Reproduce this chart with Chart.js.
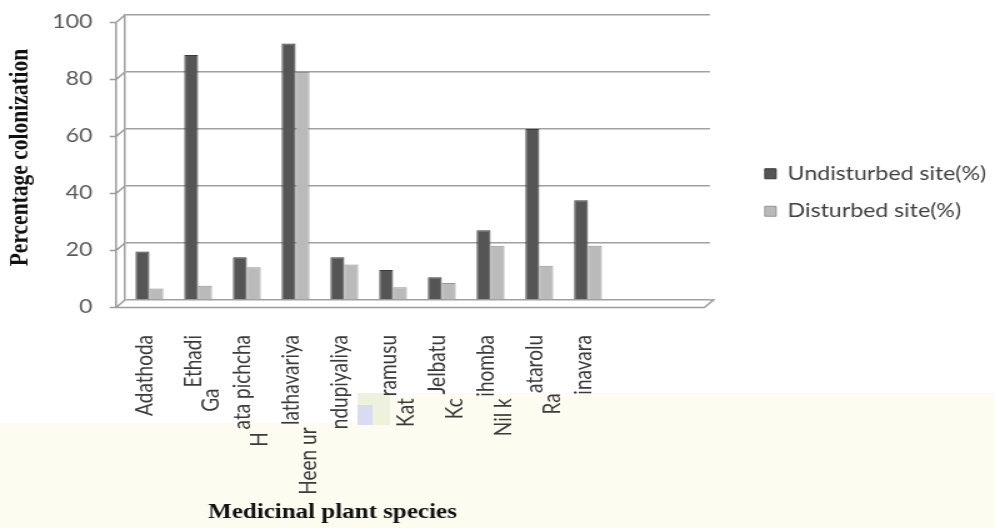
<!DOCTYPE html>
<html>
<head>
<meta charset="utf-8">
<script src="https://cdn.jsdelivr.net/npm/chart.js@4.4.1/dist/chart.umd.min.js"></script>
<style>
  html, body { margin: 0; padding: 0; background: #fff; overflow: hidden; }
  /* the source picture is a horizontally stretched Excel chart */
  #wrap { width: 796px; height: 528px; transform: scaleX(1.25); transform-origin: 0 0; }
</style>
</head>
<body>
<div id="wrap"><canvas id="chart"></canvas></div>
<script>
// category labels as they show in the picture (two lines, partly clipped)
const labelTop = ['Adathoda', 'Ethadi', 'ata pichcha', 'lathavariya', 'ndupiyaliya', 'ramusu', 'Jelbatu', 'ihomba', 'atarolu', 'inavara', '', ''];
const labelBottom = ['', 'Ga', 'H', 'Heen ur', '', 'Kat', 'Kc', 'Nil k', 'Ra', '', '', ''];
const undisturbed = [17, 86, 15, 90, 15, 10.5, 8, 24.5, 60, 35, null, null];
const disturbed = [4, 5, 11.5, 80, 12.5, 4.5, 6, 19, 12, 19, null, null];
const yTicks = [0, 20, 40, 60, 80, 100];

const xFont = { family: 'Lato', size: 19, lineHeight: 0.74 };
const measure = document.createElement('canvas').getContext('2d');

// second line starts where the first one ends, like in the picture
function buildLabel(top, bottom) {
    if (!bottom) return top;
    measure.font = xFont.size + 'px ' + xFont.family;
    const target = measure.measureText(top).width;
    let pad = '';
    while (measure.measureText(pad).width < target) pad += ' ';
    return [top, bottom + pad];
}
const labels = labelTop.map((t, i) => buildLabel(t, labelBottom[i]));

const frame3d = {
    id: 'frame3d',
    beforeDraw(chart) {
        const { ctx, width, height } = chart;
        ctx.save();
        ctx.fillStyle = '#ffffff';
        ctx.fillRect(0, 0, width, height);
        ctx.fillStyle = '#fcfcf1';
        ctx.fillRect(0, 423, width, height - 423);
        ctx.fillRect(286, 393, width - 286, 30);
        ctx.fillStyle = '#eef1dc';
        ctx.fillRect(286, 393, 26, 32);
        ctx.fillStyle = '#dadaf2';
        ctx.fillRect(286, 405, 12, 20);
        ctx.restore();
    },
    beforeDatasetsDraw(chart) {
        const { ctx, chartArea: a, scales: { y } } = chart;
        const dx = 7.2, dy = 7.5;
        const y0 = y.getPixelForValue(0);
        ctx.save();
        ctx.strokeStyle = '#9c9c9c';
        ctx.lineWidth = 1.5;
        ctx.beginPath();
        ctx.moveTo(a.left - dx, y.getPixelForValue(100) + dy);
        ctx.lineTo(a.left - dx, y0 + dy);
        yTicks.forEach(v => {
            const py = y.getPixelForValue(v);
            ctx.moveTo(a.left - dx - 5, py + dy);
            ctx.lineTo(a.left - dx, py + dy);
            ctx.lineTo(a.left, py);
        });
        ctx.moveTo(a.left - dx, y0 + dy);
        ctx.lineTo(a.right - 4.5, y0 + dy);
        ctx.lineTo(a.right + 3, y0);
        ctx.lineTo(a.right, y0);
        ctx.stroke();
        ctx.restore();
    },
    afterDraw(chart) {
        const ctx = chart.ctx;
        ctx.save();
        ctx.font = 'bold 20px "Liberation Serif"';
        ctx.fillStyle = '#111111';
        ctx.textAlign = 'center';
        ctx.textBaseline = 'middle';
        ctx.fillText('Medicinal plant species', 266, 513);
        ctx.restore();
    }
};

Chart.defaults.font.family = 'Lato';

new Chart(document.getElementById('chart').getContext('2d'), {
    type: 'bar',
    data: {
        labels: labels,
        datasets: [{
            label: 'Undisturbed site(%)',
            data: undisturbed,
            backgroundColor: '#555555',
            borderColor: '#3a3a3a',
            borderWidth: 1
        }, {
            label: 'Disturbed site(%)',
            data: disturbed,
            backgroundColor: '#bababa',
            borderColor: '#949494',
            borderWidth: 1
        }]
    },
    options: {
        responsive: true,
        maintainAspectRatio: false,
        animation: false,
        categoryPercentage: 0.57,
        barPercentage: 1,
        layout: { padding: { top: 15, right: -3, bottom: 0, left: 0 } },
        plugins: {
            tooltip: { enabled: false },
            legend: {
                position: 'right',
                fullSize: false,
                align: 'center',
                maxWidth: 260,
                title: { display: true, text: '', padding: 29, font: { size: 10 } },
                labels: {
                    boxWidth: 9,
                    boxHeight: 10,
                    padding: 19,
                    color: '#404040',
                    font: { family: 'Lato', size: 18.5 }
                }
            }
        },
        scales: {
            x: {
                grid: { display: false },
                border: { display: false },
                ticks: {
                    autoSkip: false,
                    minRotation: 90,
                    maxRotation: 90,
                    padding: 27,
                    labelOffset: -3.6,
                    color: '#3a3a3a',
                    font: xFont
                },
                afterFit(s) { s.height = 228; }
            },
            y: {
                min: 0,
                max: 100,
                afterBuildTicks(s) { s.ticks = yTicks.map(v => ({ value: v })); },
                ticks: {
                    padding: 2,
                    labelOffset: 7,
                    color: '#595959',
                    font: { family: 'Lato', size: 18.5 }
                },
                grid: {
                    color: '#a0a0a0',
                    lineWidth: 1.5,
                    drawTicks: true,
                    tickLength: 24,
                    tickColor: 'rgba(0,0,0,0)'
                },
                border: { display: true, color: '#a0a0a0', width: 1.5 },
                title: {
                    display: true,
                    text: 'Percentage colonization',
                    color: '#111111',
                    font: { family: 'Liberation Serif', size: 21.5, weight: 'bold' },
                    padding: { top: 4, bottom: 0 }
                },
                afterFit(s) { s.width = 100; }
            },
            y2: {
                position: 'right',
                grid: { display: false },
                border: { display: false },
                ticks: { display: false },
                afterFit(s) { s.width = 25; }
            }
        }
    },
    plugins: [frame3d]
});
</script>
</body>
</html>
